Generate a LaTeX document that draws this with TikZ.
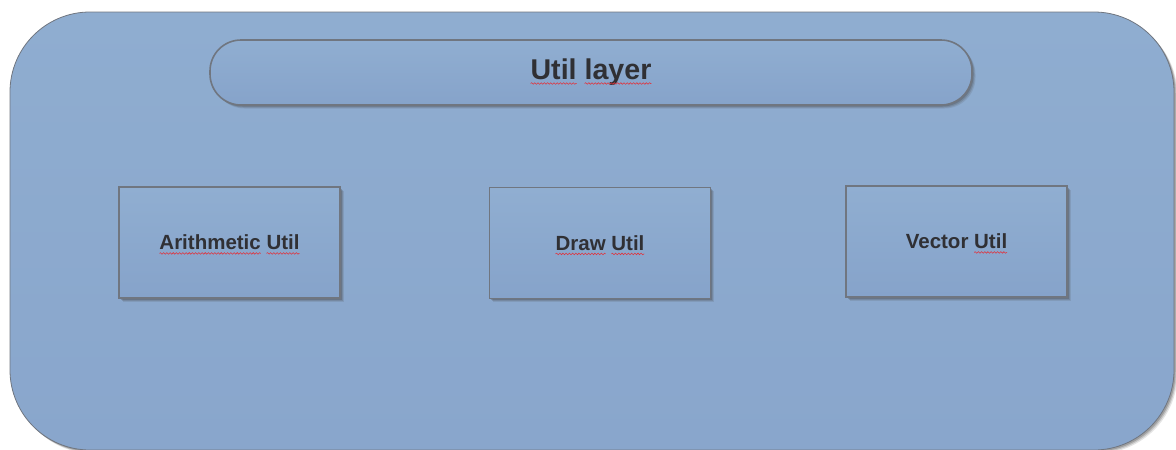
\documentclass[tikz,border=0pt]{standalone}
\usepackage{fontspec}
\setmainfont{Liberation Sans}
\usetikzlibrary{shadows,decorations.pathmorphing}

\definecolor{paneltop}{RGB}{143,173,208}
\definecolor{panelbot}{RGB}{137,166,204}
\definecolor{pilltop}{RGB}{144,174,209}
\definecolor{pillbot}{RGB}{134,163,202}
\definecolor{edge}{RGB}{112,118,128}
\definecolor{ink}{RGB}{48,48,52}
\definecolor{spell}{RGB}{225,50,60}

% spell-check wave under a word
\newsavebox\wordbox
\newlength\wordwd
\newcommand\spellmark[1]{\sbox\wordbox{#1}\setlength\wordwd{\wd\wordbox}%
  \usebox\wordbox\tikz[overlay,baseline=0pt]\draw[sharp corners,spell,line width=0.55pt,
    decorate,decoration={snake,amplitude=0.8pt,segment length=3.2pt}]
    (-\wordwd,-3.6pt) -- (0pt,-3.6pt);}

\tikzset{
  softshadow/.style={
      drop shadow={shadow xshift=3.5pt,shadow yshift=-3.5pt,opacity=0.15,fill=black!70},
      drop shadow={shadow xshift=2.5pt,shadow yshift=-2.5pt,opacity=0.22,fill=black!70},
      drop shadow={shadow xshift=1.5pt,shadow yshift=-1.5pt,opacity=0.3,fill=black!70}},
  layerpanel/.style={rectangle,rounded corners=80pt,draw=edge,line width=0.8pt,
      top color=paneltop,bottom color=panelbot,softshadow,
      minimum width=1164pt,minimum height=438pt,inner sep=0pt},
  titlepill/.style={rectangle,rounded corners=31pt,draw=edge,line width=1.6pt,
      top color=pilltop,bottom color=pillbot,softshadow,
      minimum width=762pt,minimum height=65pt,inner sep=0pt,
      text=ink,font=\fontsize{28.6}{34}\selectfont\bfseries},
  module/.style={rectangle,draw=edge,line width=1.5pt,
      top color=pilltop,bottom color=pillbot,softshadow,
      minimum width=221pt,minimum height=111pt,inner sep=0pt,
      text=ink,font=\fontsize{20.5}{24}\selectfont\bfseries},
}

\begin{document}
\begin{tikzpicture}[x=1pt,y=-1pt]
  \useasboundingbox (0,0) rectangle (1176,450);

  % the enclosing layer
  \node[layerpanel] (layer) at (592,231) {};

  % layer title
  \node[titlepill] (title) at (591,72.5) {\spellmark{Util} \spellmark{layer}};

  % utility modules
  \node[module] (arith)  at (229.5,242.5) {\spellmark{Arithmetic} \spellmark{Util}};
  \node[module] (draw)   at (600,243)     {\spellmark{Draw} \spellmark{Util}};
  \node[module] (vector) at (956.5,241.5) {Vector \spellmark{Util}};
\end{tikzpicture}
\end{document}
